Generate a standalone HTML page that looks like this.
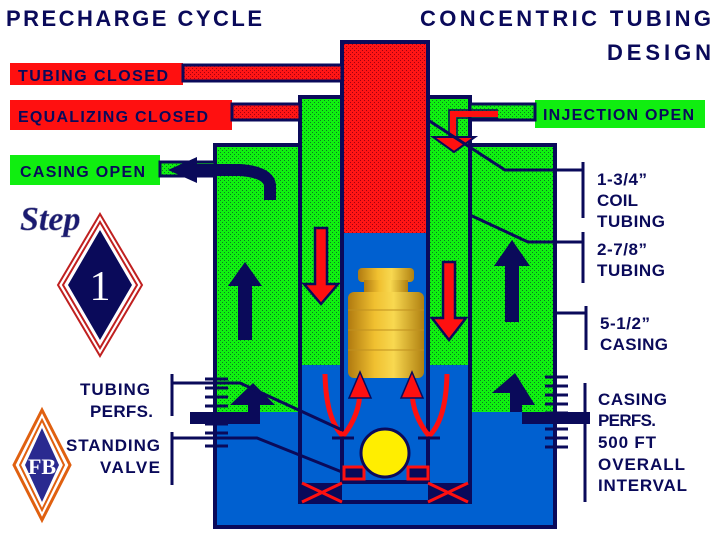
<!DOCTYPE html>
<html><head><meta charset="utf-8"><style>
html,body{margin:0;padding:0;background:#fff;width:720px;height:540px;overflow:hidden}
svg{display:block}
.b{font-family:"Liberation Sans",Arial,sans-serif;font-weight:700}
</style></head><body>
<svg width="720" height="540" viewBox="0 0 720 540">
<defs>
<pattern id="gp" width="4" height="4" patternUnits="userSpaceOnUse"><rect width="4" height="4" fill="#10f010"/><rect x="0" y="0" width="1" height="1" fill="#0a7a20"/><rect x="2" y="2" width="1" height="1" fill="#0a7a20"/></pattern>
<pattern id="rp" width="4" height="4" patternUnits="userSpaceOnUse"><rect width="4" height="4" fill="#ff1515"/><rect x="0" y="0" width="1" height="1" fill="#a00010"/><rect x="2" y="2" width="1" height="1" fill="#a00010"/></pattern>
<linearGradient id="gold" x1="0" x2="1"><stop offset="0" stop-color="#b07a10"/><stop offset="0.35" stop-color="#f0c030"/><stop offset="0.6" stop-color="#f8d850"/><stop offset="1" stop-color="#b08010"/></linearGradient>
</defs>
<g class="b" fill="#0a0a5a" font-size="22" font-weight="bold" lengthAdjust="spacing">
<text x="6" y="26" textLength="256">PRECHARGE CYCLE</text>
<text x="420" y="26" textLength="291">CONCENTRIC TUBING</text>
<text x="607" y="60" textLength="104">DESIGN</text>
</g>
<rect x="215" y="145" width="340" height="382" fill="#0060d0" stroke="#0a0a5a" stroke-width="4"/>
<rect x="217" y="147" width="336" height="265" fill="url(#gp)"/>
<rect x="300" y="97" width="170" height="405" fill="#0060d0" stroke="#0a0a5a" stroke-width="4"/>
<rect x="302" y="99" width="166" height="266" fill="url(#gp)"/>
<rect x="342" y="42" width="86" height="440" fill="#0060d0" stroke="#0a0a5a" stroke-width="4"/>
<rect x="344" y="44" width="82" height="189" fill="url(#rp)"/>
<rect x="358" y="268" width="56" height="14" rx="4" fill="url(#gold)"/>
<rect x="364" y="280" width="44" height="14" fill="url(#gold)"/>
<rect x="348" y="292" width="76" height="86" rx="6" fill="url(#gold)"/>
<g stroke="#c09020" stroke-width="1"><line x1="348" y1="310" x2="424" y2="310"/><line x1="348" y1="330" x2="424" y2="330"/><line x1="348" y1="350" x2="424" y2="350"/></g>
<rect x="10" y="63" width="173" height="22" fill="#ff1010"/>
<rect x="183" y="65" width="159" height="16" fill="url(#rp)" stroke="#0a0a5a" stroke-width="3"/>
<rect x="10" y="100" width="222" height="30" fill="#ff1010"/>
<rect x="232" y="104" width="68" height="16" fill="url(#rp)" stroke="#0a0a5a" stroke-width="3"/>
<rect x="10" y="155" width="150" height="30" fill="#10ee10"/>
<rect x="160" y="162" width="55" height="14" fill="url(#gp)" stroke="#0a0a5a" stroke-width="3"/>
<rect x="535" y="100" width="170" height="28" fill="#10ee10"/>
<rect x="470" y="104" width="65" height="16" fill="url(#gp)" stroke="#0a0a5a" stroke-width="3"/>
<g class="b" font-size="16" font-weight="bold" fill="#0a0a5a" lengthAdjust="spacing">
<text x="18" y="81" textLength="150">TUBING CLOSED</text>
<text x="18" y="122" textLength="190">EQUALIZING CLOSED</text>
<text x="20" y="177" textLength="125">CASING OPEN</text>
<text x="543" y="120" textLength="151">INJECTION OPEN</text>
</g>
<path d="M270 200 L270 185 Q268 172 240 170 L190 170" fill="none" stroke="#0a0a5a" stroke-width="12"/>
<polygon points="168,170 197,157 197,183" fill="#0a0a5a"/>
<path d="M498 114 L453 114 L453 138" fill="none" stroke="#ff1010" stroke-width="6"/>
<path d="M498 110 L449 110 L449 138 M457 138 L457 118 L498 118" fill="none" stroke="#0a0a5a" stroke-width="1.5"/>
<polygon points="433,137 475,137 454,152" fill="#ff1010" stroke="#0a0a5a" stroke-width="2"/>
<g fill="#0a0a5a">
<polygon points="238,340 252,340 252,286 262,286 245,262 228,286 238,286"/>
<polygon points="505,322 519,322 519,266 530,266 512,240 494,266 505,266"/>
<polygon points="190,424 260,424 260,405 275,405 253,383 230,405 248,405 248,412 190,412"/>
<polygon points="590,424 522,424 522,405 535,405 515,373 492,393 510,393 510,412 590,412"/>
</g>
<g fill="#ff1010" stroke="#0a0a5a" stroke-width="2.5">
<polygon points="315,228 327,228 327,284 338,284 321,304 304,284 315,284"/>
<polygon points="443,262 455,262 455,318 466,318 449,340 432,318 443,318"/>
</g>
<g fill="none" stroke-width="5">
<path d="M325 374 Q326 420 343 436 M343 436 Q360 415 360 390" stroke="#ff1010"/>
<path d="M447 374 Q446 420 429 436 M429 436 Q412 415 412 390" stroke="#ff1010"/>
</g>
<g fill="#ff1010" stroke="#0a0a5a" stroke-width="1.5">
<polygon points="360,372 371,398 349,398"/>
<polygon points="412,372 423,398 401,398"/>
</g>
<g stroke="#0a0a5a" stroke-width="3"><line x1="332" y1="438" x2="354" y2="438"/><line x1="418" y1="438" x2="440" y2="438"/></g>
<rect x="344" y="467" width="20" height="12" fill="#0a0a5a" stroke="#ff1010" stroke-width="3"/>
<rect x="408" y="467" width="20" height="12" fill="#0a0a5a" stroke="#ff1010" stroke-width="3"/>
<circle cx="385" cy="453" r="24" fill="#ffee00" stroke="#0a0a5a" stroke-width="3"/>
<rect x="302" y="483" width="40" height="19" fill="#0a0a5a"/>
<rect x="428" y="483" width="40" height="19" fill="#0a0a5a"/>
<g stroke="#ff1010" stroke-width="3"><path d="M302 483 L342 502 M342 483 L302 502 M428 483 L468 502 M468 483 L428 502"/></g>
<g stroke="#0a0a5a" stroke-width="3">
<path d="M205 379h23M205 388h23M205 397h23M205 406h23M205 415h23M205 424h23M205 433h23M205 446h23"/>
<path d="M545 377h23M545 386h23M545 395h23M545 404h23M545 413h23M545 429h23M545 438h23M545 447h23"/>
</g>
<g fill="none" stroke="#0a0a5a" stroke-width="3">
<path d="M428 120 L505 170 L583 170"/><path d="M583 162 V218"/>
<path d="M470 215 L528 242 L583 242"/><path d="M583 232 V283"/>
<path d="M555 313 H586"/><path d="M586 306 V350"/>
<path d="M585 383 V502"/><path d="M555 419 H585"/>
<path d="M172 374 V416"/><path d="M172 383 L240 383 L342 430"/>
<path d="M172 432 V485"/><path d="M172 438 L257 438 L342 472"/>
</g>
<g class="b" fill="#0a0a5a" font-size="17" font-weight="bold" lengthAdjust="spacing">
<text x="597" y="185" textLength="50">1-3/4”</text><text x="597" y="206" textLength="41">COIL</text><text x="597" y="227" textLength="68">TUBING</text>
<text x="597" y="255" textLength="50">2-7/8”</text><text x="597" y="276" textLength="68">TUBING</text>
<text x="600" y="329" textLength="50">5-1/2”</text><text x="600" y="350" textLength="68">CASING</text>
<text x="598" y="405" textLength="69">CASING</text><text x="598" y="426" textLength="58">PERFS.</text><text x="598" y="448" textLength="58">500 FT</text><text x="598" y="470" textLength="87">OVERALL</text><text x="598" y="491" textLength="89">INTERVAL</text>
<text x="80" y="395" textLength="70">TUBING</text><text x="90" y="417" textLength="63">PERFS.</text><text x="66" y="451" textLength="94">STANDING</text><text x="100" y="473" textLength="60">VALVE</text>
</g>
<text x="20" y="230" style="font-family:'Liberation Serif',serif;font-style:italic;font-weight:700" font-size="34" fill="#1a1a70" stroke="#8888aa" stroke-width="0.5">Step</text>
<polygon points="100,214 142,285 100,356 58,285" fill="#fff" stroke="#c02020" stroke-width="2"/>
<polygon points="100,222 137,285 100,348 63,285" fill="none" stroke="#c02020" stroke-width="2"/>
<polygon points="100,230 132,285 100,340 68,285" fill="#0a0a5a"/>
<text x="100" y="300" text-anchor="middle" style="font-family:'Liberation Serif',serif;font-weight:400" font-size="42" fill="#fff">1</text>
<polygon points="42,410 70,465 42,520 14,465" fill="#fff" stroke="#e06010" stroke-width="3"/>
<polygon points="42,420 64,465 42,510 20,465" fill="none" stroke="#e06010" stroke-width="2"/>
<polygon points="42,428 59,465 42,502 25,465" fill="#2a2a90"/>
<text x="42" y="474" text-anchor="middle" font-size="22" fill="#fff" style="font-family:'Liberation Serif',serif;font-weight:700">FB</text>
</svg>
</body></html>
